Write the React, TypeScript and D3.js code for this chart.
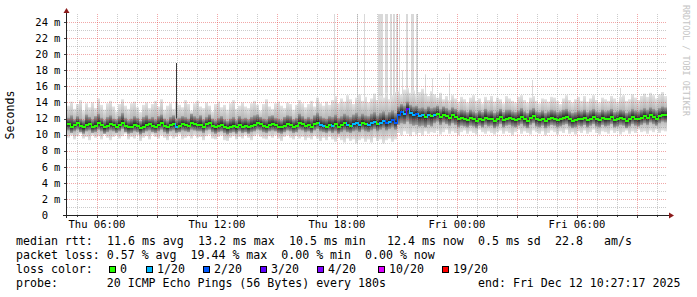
import React from "react";
import * as d3 from "d3";

const W = 697;
const H = 297;

// time range shown and step of each smoke column
const startTime = "2025-12-11T04:30";
const endTime = "2025-12-12T10:30";
const stepMinutes = 9;

// median rtt (ms)
const median = [
  11.3, 11.0, 11.2, 11.4, 11.1, 10.9, 11.2, 11.3, 11.0, 11.1,
  11.4, 11.2, 10.9, 11.1, 11.3, 11.2, 11.0, 11.2, 11.5, 11.1,
  10.9, 11.0, 11.2, 11.1, 10.8, 11.0, 11.2, 11.3, 11.1, 11.0,
  11.2, 11.4, 11.1, 10.9, 11.2, 11.3, 11.0, 11.1, 11.3, 11.2,
  11.1, 11.4, 11.3, 11.2, 11.2, 11.0, 11.3, 11.4, 11.1, 10.9,
  11.1, 11.2, 11.0, 10.8, 11.0, 11.1, 10.9, 11.2, 11.0, 11.1,
  10.9, 11.1, 11.2, 11.4, 11.3, 11.1, 11.0, 11.2, 11.3, 11.2,
  11.0, 10.9, 11.1, 11.3, 11.2, 11.0, 11.1, 11.4, 11.3, 11.1,
  11.2, 11.0, 11.3, 11.5, 11.2, 11.1, 11.0, 11.2,
  11.1, 11.3, 11.0, 11.2, 11.4, 11.2, 11.1, 11.3, 11.4, 11.2,
  11.5, 11.3, 11.2, 11.4, 11.6, 11.3, 11.5, 11.7, 11.4, 11.6, 11.8, 11.5,
  12.5, 12.8, 12.6, 13.2, 12.7, 12.5, 12.6, 12.3, 12.4, 12.2, 12.5, 12.3,
  12.4, 12.6, 12.2, 12.5, 12.3, 12.1, 12.4, 12.2, 11.9, 12.1,
  12.0, 11.8, 12.1, 11.9, 11.7, 12.0, 11.8, 12.1, 11.9, 12.0,
  11.7, 11.9, 12.2, 11.8, 12.0, 12.1, 11.9, 11.8, 12.0, 12.2,
  11.9, 11.7, 12.1, 12.3, 11.9, 11.8, 12.0, 11.7, 11.9, 12.1,
  12.0, 11.8, 11.9, 12.1, 12.2, 11.9, 11.7, 11.8, 12.0, 11.9,
  12.1, 11.8, 12.0, 12.2, 11.9, 11.8, 12.1, 11.9, 12.0, 12.2,
  11.8, 11.9, 12.1, 12.0, 11.7, 11.9, 12.2, 12.0, 11.9, 12.1,
  12.3, 12.1, 12.4, 12.2, 12.0, 12.3, 12.5, 12.4,
];

// highest ping of each column (ms)
const outerHi = [
  13.6, 14.1, 13.2, 13.8, 14.3, 13.0, 13.9, 13.4, 14.0, 13.3,
  14.5, 13.7, 13.1, 13.9, 14.2, 13.5, 12.9, 13.8, 14.4, 13.6,
  13.2, 13.9, 14.1, 13.4, 12.8, 13.7, 14.0, 13.3, 13.8, 14.2,
  13.5, 14.4, 13.1, 13.6, 13.9, 13.2, 14.1, 13.7, 13.4, 14.3,
  13.8, 13.0, 13.9, 14.2, 13.5, 13.3, 14.0, 13.6, 12.9, 13.8,
  14.1, 13.4, 13.7, 13.1, 13.9, 14.3, 13.2, 13.6, 14.0, 13.5,
  13.3, 13.9, 14.2, 13.7, 13.0, 13.8, 14.4, 13.5, 13.2, 13.9,
  14.1, 13.6, 13.3, 14.0, 13.8, 13.1, 13.7, 14.3, 13.9, 13.4,
  13.8, 14.2, 13.5, 14.6, 13.9, 13.6, 14.1, 13.7,
  14.3, 14.8, 13.9, 14.5, 14.1, 14.9, 14.4, 13.8, 14.6, 15.0,
  14.2, 14.7, 14.0, 14.5, 15.1, 14.3, 14.8, 14.6, 15.2, 14.4, 14.9, 15.3,
  15.4, 15.0, 15.6, 15.8, 15.2, 15.5, 14.9, 15.3, 15.7, 15.1, 14.8, 15.4,
  15.0, 14.6, 15.2, 14.4, 14.8, 14.3, 14.9, 14.5, 14.1, 14.7,
  14.4, 14.0, 14.6, 14.9, 14.2, 14.5, 13.9, 14.7, 14.3, 14.8,
  14.1, 14.6, 14.4, 13.9, 14.8, 14.5, 14.2, 14.0, 14.7, 14.9,
  14.3, 14.0, 14.6, 14.8, 14.2, 13.9, 14.5, 14.4, 14.1, 14.7,
  14.6, 14.2, 13.8, 14.5, 14.9, 14.3, 14.0, 14.4, 14.7, 14.2,
  14.8, 14.1, 14.5, 14.9, 14.3, 14.0, 14.6, 14.4, 14.2, 14.8,
  14.5, 14.1, 14.7, 14.9, 14.2, 14.4, 15.0, 14.6, 14.3, 14.8,
  15.1, 14.7, 15.2, 14.9, 14.5, 15.0, 15.3, 14.8,
];

// lowest ping of each column (ms)
const outerLo = [
  9.6, 9.9, 9.4, 9.8, 10.1, 9.5, 9.7, 9.3, 9.9, 9.6,
  9.8, 9.4, 10.0, 9.6, 9.3, 9.7, 9.9, 9.5, 9.8, 10.1,
  9.4, 9.7, 9.5, 9.9, 9.2, 9.6, 9.8, 9.4, 10.0, 9.7,
  9.5, 9.9, 9.6, 9.3, 9.8, 9.5, 9.7, 10.0, 9.4, 9.6,
  9.8, 9.5, 9.9, 9.6, 9.7, 9.3, 9.8, 10.0, 9.5, 9.4,
  9.7, 9.9, 9.3, 9.2, 9.6, 9.8, 9.4, 9.7, 9.5, 9.9,
  9.6, 9.3, 9.8, 10.0, 9.7, 9.5, 9.4, 9.8, 9.6, 9.9,
  9.5, 9.2, 9.7, 9.9, 9.6, 9.4, 9.8, 9.5, 9.7, 9.3,
  9.6, 9.4, 9.8, 9.5, 9.2, 9.6, 9.3, 9.7,
  9.4, 9.1, 9.6, 9.3, 9.0, 9.5, 9.2, 9.4, 8.9, 9.3,
  9.5, 9.1, 9.4, 9.0, 9.6, 9.2, 9.4, 8.9, 9.3, 9.5, 9.1, 9.4,
  10.2, 9.9, 10.4, 10.1, 9.8, 10.3, 10.0, 10.2, 9.9, 10.4, 10.1, 10.3,
  10.2, 10.5, 10.0, 10.3, 10.6, 10.1, 10.4, 10.2, 9.9, 10.3,
  10.5, 10.1, 10.4, 10.2, 10.0, 10.6, 10.3, 10.1, 10.4, 10.2,
  10.0, 10.3, 10.5, 10.1, 10.4, 10.2, 9.9, 10.3, 10.6, 10.1,
  10.4, 10.2, 10.0, 10.5, 10.3, 10.1, 10.4, 9.9, 10.2, 10.5,
  10.3, 10.0, 10.4, 10.2, 10.6, 10.1, 10.3, 10.0, 10.4, 10.2,
  10.5, 10.1, 10.3, 10.6, 10.2, 10.0, 10.4, 10.3, 10.1, 10.5,
  10.2, 10.4, 10.0, 10.3, 10.5, 10.1, 10.4, 10.2, 10.6, 10.3,
  10.4, 10.1, 10.5, 10.3, 10.6, 10.2, 10.5, 10.4,
];

// upper edge of the dense core of pings (ms)
const innerHi = [
  12.1, 12.4, 11.9, 12.3, 12.0, 11.8, 12.5, 12.2, 11.9, 12.3,
  12.6, 12.1, 11.8, 12.2, 12.4, 12.0, 11.9, 12.3, 12.7, 12.1,
  11.8, 12.0, 12.3, 12.1, 11.7, 12.2, 12.4, 12.0, 12.2, 11.9,
  12.3, 12.5, 12.0, 11.8, 12.2, 12.4, 11.9, 12.1, 12.3, 12.2,
  12.0, 12.6, 12.3, 12.1, 12.4, 11.9, 12.2, 12.5, 12.0, 11.8,
  12.1, 12.3, 11.9, 11.7, 12.0, 12.2, 11.8, 12.3, 12.0, 12.1,
  11.9, 12.2, 12.4, 12.5, 12.2, 12.0, 11.9, 12.3, 12.4, 12.1,
  12.0, 11.8, 12.2, 12.4, 12.3, 11.9, 12.1, 12.6, 12.3, 12.0,
  12.2, 12.0, 12.4, 12.7, 12.3, 12.1, 12.0, 12.3,
  12.2, 12.5, 12.1, 12.3, 12.6, 12.4, 12.2, 12.5, 12.7, 12.3,
  12.6, 12.4, 12.3, 12.6, 12.8, 12.4, 12.7, 12.9, 12.5, 12.8, 13.0, 12.7,
  13.5, 13.8, 13.6, 14.1, 13.7, 13.5, 13.6, 13.3, 13.4, 13.2, 13.5, 13.3,
  13.4, 13.6, 13.2, 13.5, 13.3, 13.1, 13.4, 13.2, 12.9, 13.1,
  13.0, 12.8, 13.1, 12.9, 12.7, 13.0, 12.8, 13.2, 12.9, 13.0,
  12.7, 12.9, 13.2, 12.8, 13.1, 13.1, 12.9, 12.8, 13.0, 13.3,
  12.9, 12.7, 13.1, 13.3, 12.9, 12.8, 13.0, 12.7, 12.9, 13.1,
  13.0, 12.8, 12.9, 13.1, 13.2, 12.9, 12.7, 12.8, 13.0, 12.9,
  13.1, 12.8, 13.0, 13.2, 12.9, 12.8, 13.1, 12.9, 13.0, 13.2,
  12.8, 12.9, 13.1, 13.0, 12.7, 12.9, 13.2, 13.0, 12.9, 13.1,
  13.3, 13.1, 13.4, 13.2, 13.0, 13.3, 13.5, 13.4,
];

// lower edge of the dense core of pings (ms)
const innerLo = [
  10.5, 10.2, 10.4, 10.6, 10.3, 10.1, 10.4, 10.5, 10.2, 10.3,
  10.6, 10.4, 10.1, 10.3, 10.5, 10.4, 10.2, 10.4, 10.7, 10.3,
  10.1, 10.2, 10.4, 10.3, 10.0, 10.2, 10.4, 10.5, 10.3, 10.2,
  10.4, 10.6, 10.3, 10.1, 10.4, 10.5, 10.2, 10.3, 10.5, 10.4,
  10.3, 10.6, 10.5, 10.4, 10.4, 10.2, 10.5, 10.6, 10.3, 10.1,
  10.3, 10.4, 10.2, 10.0, 10.2, 10.3, 10.1, 10.4, 10.2, 10.3,
  10.1, 10.3, 10.4, 10.6, 10.5, 10.3, 10.2, 10.4, 10.5, 10.4,
  10.2, 10.1, 10.3, 10.5, 10.4, 10.2, 10.3, 10.6, 10.5, 10.3,
  10.4, 10.2, 10.5, 10.7, 10.4, 10.3, 10.2, 10.4,
  10.2, 10.4, 10.1, 10.3, 10.5, 10.3, 10.2, 10.4, 10.5, 10.3,
  10.6, 10.4, 10.3, 10.5, 10.7, 10.4, 10.6, 10.8, 10.5, 10.7, 10.9, 10.6,
  11.2, 11.4, 11.3, 11.6, 11.3, 11.1, 11.2, 11.0, 11.1, 10.9, 11.2, 11.0,
  11.4, 11.6, 11.2, 11.5, 11.3, 11.1, 11.4, 11.2, 10.9, 11.1,
  11.0, 10.9, 11.1, 11.0, 10.8, 11.1, 10.9, 11.2, 11.0, 11.1,
  10.8, 11.0, 11.3, 10.9, 11.1, 11.2, 11.0, 10.9, 11.1, 11.3,
  11.0, 10.8, 11.2, 11.4, 11.0, 10.9, 11.1, 10.8, 11.0, 11.2,
  11.1, 10.9, 11.0, 11.2, 11.3, 11.0, 10.8, 10.9, 11.1, 11.0,
  11.2, 10.9, 11.1, 11.3, 11.0, 10.9, 11.2, 11.0, 11.1, 11.3,
  10.9, 11.0, 11.2, 11.1, 10.8, 11.0, 11.3, 11.1, 11.0, 11.2,
  11.4, 11.2, 11.5, 11.3, 11.1, 11.4, 11.6, 11.5,
];

// lost pings (out of 20) of each column
const loss = [
  0, 0, 0, 0, 0, 0, 0, 0, 0, 0,
  0, 0, 0, 0, 0, 0, 0, 0, 0, 0,
  0, 0, 0, 0, 0, 0, 0, 0, 0, 0,
  0, 0, 0, 0, 0, 0, 1, 0, 0, 0,
  0, 0, 0, 0, 0, 0, 0, 0, 0, 0,
  0, 0, 0, 0, 0, 0, 0, 0, 0, 0,
  0, 0, 0, 0, 0, 0, 0, 0, 0, 0,
  0, 0, 0, 0, 0, 0, 0, 0, 0, 0,
  0, 0, 0, 0, 1, 1, 0, 0, 1, 0,
  0, 0, 0, 1, 0, 1, 1, 1, 0, 0,
  1, 1, 1, 0, 1, 1, 2, 1, 2, 2,
  2, 2, 1, 3, 1, 1, 2, 1, 1, 0,
  1, 0, 1, 0, 0, 0, 0, 0, 0, 0,
  0, 0, 0, 0, 0, 0, 0, 0, 0, 0,
  0, 0, 0, 0, 0, 0, 0, 0, 0, 0,
  0, 0, 0, 0, 0, 0, 0, 0, 0, 0,
  0, 0, 0, 0, 0, 0, 0, 0, 0, 0,
  0, 0, 0, 0, 0, 0, 0, 0, 0, 0,
  0, 0, 0, 0, 0, 0, 0, 0, 0, 0,
  0, 0, 0, 0, 0, 0, 0, 0, 0, 0,
];

// single 180 s steps whose slowest ping went far above the smoke
const spikeTimes = [
  "2025-12-11T17:51", "2025-12-11T19:00", "2025-12-11T19:21",
  "2025-12-11T20:03", "2025-12-11T20:06", "2025-12-11T20:09", "2025-12-11T20:12", "2025-12-11T20:15",
  "2025-12-11T20:24", "2025-12-11T20:27", "2025-12-11T20:30",
  "2025-12-11T20:39", "2025-12-11T20:42", "2025-12-11T20:48", "2025-12-11T20:51",
  "2025-12-11T20:57", "2025-12-11T21:00", "2025-12-11T21:06", "2025-12-11T21:15",
  "2025-12-11T21:27", "2025-12-11T21:30", "2025-12-11T21:42", "2025-12-11T21:45", "2025-12-11T21:48",
  "2025-12-11T21:57", "2025-12-11T22:00", "2025-12-11T22:24", "2025-12-11T22:45",
  "2025-12-11T23:36", "2025-12-12T03:45", "2025-12-12T08:09", "2025-12-12T10:18",
];
const spikeValues = [
  26, 26, 26,
  26, 26, 26, 26, 26,
  26, 26, 26,
  26, 26, 26, 26,
  26, 26, 26, 18.0,
  26, 26, 26, 26, 26,
  26, 26, 17.5, 17.0,
  17.6, 16.8, 15.8, 15.2,
];
const darkSpikeTimes = ["2025-12-11T09:57"];
const darkSpikeValues = [18.9];

const yTicks = [0, 2, 4, 6, 8, 10, 12, 14, 16, 18, 20, 22, 24];
const xLabelTimes = [
  "2025-12-11T06:00", "2025-12-11T12:00", "2025-12-11T18:00",
  "2025-12-12T00:00", "2025-12-12T06:00",
];

const lossLevels = [0, 1, 2, 3, 4, 10, 19];
const lossLabels = ["0", "1/20", "2/20", "3/20", "4/20", "10/20", "19/20"];
const lossColors = ["#26ff00", "#00b8ff", "#0059ff", "#5e00ff", "#7e00ff", "#dd00ff", "#ff0000"];

const legendRtt = [
  ["median rtt:", 0], ["11.6 ms avg", 13], ["13.2 ms max", 26], ["10.5 ms min", 39],
  ["12.4 ms now", 53], ["0.5 ms sd", 66], ["22.8", 77], ["am/s", 84],
];
const legendLoss = "packet loss: 0.57 % avg  19.44 % max  0.00 % min  0.00 % now";
const legendProbe = "probe:       20 ICMP Echo Pings (56 Bytes) every 180s";
const legendEnd = "end: Fri Dec 12 10:27:17 2025";

const MONO = "'DejaVu Sans Mono', monospace";

function lossColor(v: number) {
  let idx = 0;
  lossLevels.forEach((l, i) => { if (v >= l) idx = i; });
  return lossColors[idx];
}

export default function App() {
  const parse = d3.timeParse("%Y-%m-%dT%H:%M");
  const t0 = parse(startTime) as Date;
  const t1 = parse(endTime) as Date;
  const L = 67, R = 667, T = 14, B = 215;
  const x = d3.scaleTime().domain([t0, t1]).range([L, R]);
  const y = d3.scaleLinear().domain([0, 25]).range([B, T]);
  const n = Math.min(median.length, outerHi.length, outerLo.length, innerHi.length, innerLo.length, loss.length);
  const times = d3.range(n + 1).map((i) => d3.timeMinute.offset(t0, i * stepMinutes));
  const fmt = d3.timeFormat("%a %H:%M");

  const hours = d3.timeHour.range(t0, t1);
  const minorV = hours.filter((h) => h.getHours() % 3 !== 0);
  const majorV = hours.filter((h) => h.getHours() % 3 === 0);
  const minorH = d3.range(1, 25, 2);
  const majorH = d3.range(2, 25, 2);
  const px = (v: number) => Math.round(v) + 0.5;

  const cols = d3.range(n).map((i) => {
    const xa = x(times[i]);
    const xb = x(times[i + 1]);
    return { i, xa, w: xb - xa };
  });

  const charW = 7.0;
  const legX = 16;
  const boxX = [109, 146, 203, 260, 317, 378, 442];

  return (
    <svg width={W} height={H} style={{ position: "absolute", left: 0, top: 0, display: "block", background: "#fff" }}
      fontFamily={MONO}>
      <defs>
        <clipPath id="plotClip"><rect x={L} y={T} width={R - L} height={B - T} /></clipPath>
        <linearGradient id="gOutUp" x1="0" y1="0" x2="0" y2="1">
          <stop offset="0" stopColor="#e4e4e4" />
          <stop offset="1" stopColor="#9c9c9c" />
        </linearGradient>
        <linearGradient id="gOutDn" x1="0" y1="0" x2="0" y2="1">
          <stop offset="0" stopColor="#9c9c9c" />
          <stop offset="1" stopColor="#e4e4e4" />
        </linearGradient>
        <linearGradient id="gInUp" x1="0" y1="0" x2="0" y2="1">
          <stop offset="0" stopColor="#a0a0a0" />
          <stop offset="1" stopColor="#1e1e1e" />
        </linearGradient>
        <linearGradient id="gInDn" x1="0" y1="0" x2="0" y2="1">
          <stop offset="0" stopColor="#1e1e1e" />
          <stop offset="1" stopColor="#a0a0a0" />
        </linearGradient>
      </defs>
      <rect x={0} y={0} width={W} height={H} fill="#fff" />

      <g clipPath="url(#plotClip)">
        {spikeTimes.map((s, k) => {
          const t = parse(s) as Date;
          const xa = x(t);
          const xb = x(d3.timeMinute.offset(t, 3));
          return <rect key={"sp" + k} x={xa} width={xb - xa} y={y(spikeValues[k])} height={y(12) - y(spikeValues[k])} fill="#d9d9d9" />;
        })}
        {cols.map(({ i, xa, w }) => (
          <g key={"c" + i}>
            <rect x={xa} width={w} y={y(outerHi[i])} height={y(median[i]) - y(outerHi[i])} fill="url(#gOutUp)" />
            <rect x={xa} width={w} y={y(median[i])} height={y(outerLo[i]) - y(median[i])} fill="url(#gOutDn)" />
            <rect x={xa} width={w} y={y(innerHi[i])} height={y(median[i]) - y(innerHi[i])} fill="url(#gInUp)" />
            <rect x={xa} width={w} y={y(median[i])} height={y(innerLo[i]) - y(median[i])} fill="url(#gInDn)" />
          </g>
        ))}
        {darkSpikeTimes.map((s, k) => {
          const t = parse(s) as Date;
          const xa = x(t);
          const xb = x(d3.timeMinute.offset(t, 3));
          return <rect key={"dsp" + k} x={xa} width={xb - xa} y={y(darkSpikeValues[k])} height={y(12) - y(darkSpikeValues[k])} fill="#3a3a3a" />;
        })}
      </g>

      {/* grid */}
      <g shapeRendering="crispEdges" strokeDasharray="1,1" strokeWidth={1}>
        {minorH.map((v) => (
          <line key={"mh" + v} x1={L} x2={R} y1={px(y(v))} y2={px(y(v))} stroke="rgba(140,140,140,0.45)" />
        ))}
        {minorV.map((h, k) => (
          <line key={"mv" + k} x1={px(x(h))} x2={px(x(h))} y1={T} y2={B} stroke="rgba(140,140,140,0.45)" />
        ))}
        {majorH.map((v) => (
          <line key={"Mh" + v} x1={L} x2={R} y1={px(y(v))} y2={px(y(v))} stroke="rgba(225,60,60,0.45)" />
        ))}
        {majorV.map((h, k) => (
          <line key={"Mv" + k} x1={px(x(h))} x2={px(x(h))} y1={T} y2={B} stroke="rgba(225,60,60,0.45)" />
        ))}
      </g>

      {/* median line coloured by loss */}
      <g clipPath="url(#plotClip)" shapeRendering="crispEdges">
        {cols.map(({ i, xa, w }) => {
          const yPrev = Math.round(y(median[Math.max(0, i - 1)]));
          const yc = Math.round(y(median[i]));
          const c = lossColor(loss[i]);
          const xs = Math.round(xa);
          const xe = Math.round(xa + w);
          return (
            <g key={"m" + i} fill={c}>
              <rect x={xs} width={1} y={Math.min(yPrev, yc) - 1} height={Math.abs(yc - yPrev) + 2} />
              <rect x={xs} width={xe - xs} y={yc - 1} height={2} />
            </g>
          );
        })}
      </g>

      {/* axes */}
      <g shapeRendering="crispEdges">
        {yTicks.map((v) => (
          <line key={"yt" + v} x1={L - 3} x2={L} y1={px(y(v))} y2={px(y(v))} stroke="#444" />
        ))}
        {majorV.map((h, k) => (
          <line key={"xt" + k} x1={px(x(h))} x2={px(x(h))} y1={B} y2={B + 3} stroke="#444" />
        ))}
        {minorV.map((h, k) => (
          <line key={"xmt" + k} x1={px(x(h))} x2={px(x(h))} y1={B} y2={B + 2} stroke="#444" />
        ))}
        <line x1={L - 0.5} x2={L - 0.5} y1={B + 3} y2={11} stroke="#222" />
        <line x1={L - 4} x2={R + 3} y1={B + 0.5} y2={B + 0.5} stroke="#222" />
      </g>
      <path d={`M${L - 3.5},${13} L${L - 0.5},${8} L${L + 2.5},${13} Z`} fill="#8b1a1a" />
      <path d={`M${R + 2},${B - 2.5} L${R + 7},${B + 0.5} L${R + 2},${B + 3.5} Z`} fill="#8b1a1a" />

      {/* y tick labels */}
      <g fontSize={10.5} fill="#000">
        {yTicks.map((v) => (
          <g key={"yl" + v}>
            <text x={48} y={y(v)} dy="0.36em" textAnchor="end">{String(v)}</text>
            {v !== 0 && <text x={54} y={y(v)} dy="0.36em">m</text>}
          </g>
        ))}
      </g>
      {/* x tick labels */}
      <g fontSize={10.5} fill="#000" textAnchor="middle">
        {xLabelTimes.map((s) => {
          const t = parse(s) as Date;
          return <text key={s} x={x(t)} y={228}>{fmt(t)}</text>;
        })}
      </g>

      <text transform="translate(14,115) rotate(-90)" textAnchor="middle" fontSize={11.6} fill="#000">Seconds</text>
      <text transform="translate(683,5) rotate(90)" fontSize={8.4} fill="#c4c4c4">RRDTOOL / TOBI OETIKER</text>

      {/* legend */}
      <g fontSize={11.6} fill="#000" style={{ whiteSpace: "pre" }}>
        {legendRtt.map(([s, idx]) => (
          <text key={String(s)} x={legX + (idx as number) * charW} y={244.5}>{s as string}</text>
        ))}
        <text x={legX} y={258.5} xmlSpace="preserve">{legendLoss}</text>
        <text x={legX} y={272.5}>loss color:</text>
        {lossLabels.map((lab, k) => (
          <g key={"lg" + k}>
            <rect x={boxX[k] + 0.5} y={266.5} width={6} height={6} fill={lossColors[k]} stroke="#000" strokeWidth={1} shapeRendering="crispEdges" />
            <text x={boxX[k] + 11} y={272.5}>{lab}</text>
          </g>
        ))}
        <text x={legX} y={286.5} xmlSpace="preserve">{legendProbe}</text>
        <text x={legX + 66 * charW} y={286.5}>{legendEnd}</text>
      </g>
    </svg>
  );
}
